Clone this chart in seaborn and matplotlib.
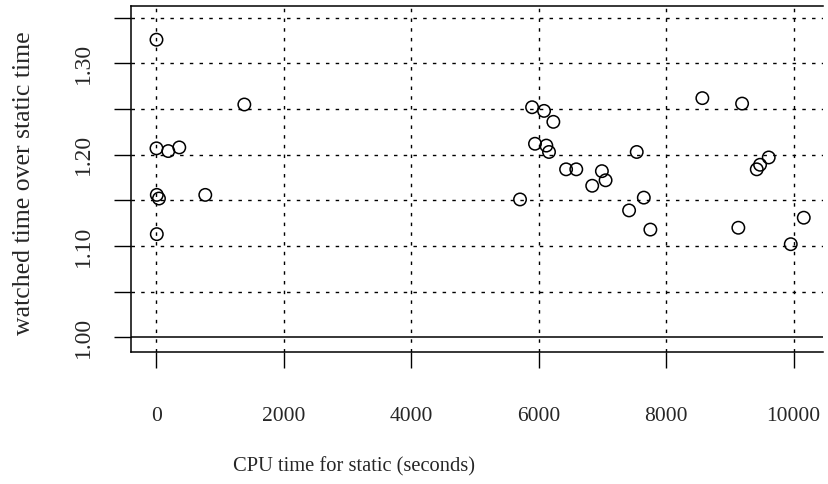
import matplotlib
matplotlib.use("Agg")
import matplotlib.pyplot as plt
import seaborn as sns
import pandas as pd

cpu_static = [0, 0, 185, 358, 1379, 5, 39, 766, 5,
              5707, 5896, 6084, 6230, 5942, 6120, 6162, 6430, 6590, 6992, 7050, 6840,
              7539, 7650, 7419, 7753, 8569, 9193, 9423, 9475, 9611, 10161, 9134, 9957]
ratio = [1.326, 1.207, 1.204, 1.208, 1.255, 1.156, 1.152, 1.156, 1.113,
         1.151, 1.252, 1.248, 1.236, 1.212, 1.210, 1.203, 1.184, 1.184, 1.182, 1.172, 1.166,
         1.203, 1.153, 1.139, 1.118, 1.262, 1.256, 1.184, 1.189, 1.197, 1.131, 1.120, 1.102]

x_ticks = [0, 2000, 4000, 6000, 8000, 10000]
x_tick_labels = ["0", "2000", "4000", "6000", "8000", "10000"]
y_ticks = [1.00, 1.05, 1.10, 1.15, 1.20, 1.25, 1.30, 1.35]
y_tick_labels = ["1.00", "", "1.10", "", "1.20", "", "1.30", ""]

df = pd.DataFrame({"cpu": cpu_static, "ratio": ratio})

sns.set_style("white")
plt.rcParams["font.family"] = ["Liberation Serif", "DejaVu Serif"]

fig = plt.figure(figsize=(8.29, 4.84), dpi=100)
ax = fig.add_axes([131/829, 1-352/484, (823-131)/829, (352-6)/484])

dash = (0, (2.5, 4.5))
for xv in x_ticks:
    ax.axvline(xv, color="black", lw=1.0, ls=dash, zorder=1)
for yv in y_ticks[1:]:
    ax.axhline(yv, color="black", lw=1.0, ls=dash, zorder=1)
ax.axhline(1.0, color="black", lw=1.1, zorder=1)

sns.scatterplot(data=df, x="cpu", y="ratio", ax=ax, marker="o", s=80,
                facecolor="none", edgecolor="black", linewidth=1.1, zorder=3)

ax.set_xlim(-400, 10463)
ax.set_ylim(0.9839, 1.3629)

ax.set_xticks(x_ticks)
ax.set_xticklabels(x_tick_labels, fontsize=15.5)
ax.set_yticks(y_ticks)
ax.set_yticklabels(y_tick_labels, fontsize=17, rotation=90, va="center")
ax.tick_params(axis="x", which="major", bottom=True, direction="out", length=11.5,
               width=1.0, pad=28, color="black")
ax.tick_params(axis="y", which="major", left=True, direction="out", length=12,
               width=1.0, pad=15, color="black")

for s in ["top", "left", "bottom"]:
    ax.spines[s].set_visible(True)
    ax.spines[s].set_color("black")
    ax.spines[s].set_linewidth(1.1)
ax.spines["right"].set_visible(False)

ax.set_xlabel("CPU time for static (seconds)", fontsize=14.8)
ax.set_ylabel("watched time over static time", fontsize=18.5)
ax.xaxis.set_label_coords((354-131)/692, (352-467)/346)
ax.xaxis.label.set_va("center")
ax.yaxis.set_label_coords((24-131)/692, (352-183)/346)
ax.yaxis.label.set_va("center")

fig.savefig("out.png", dpi=100)
